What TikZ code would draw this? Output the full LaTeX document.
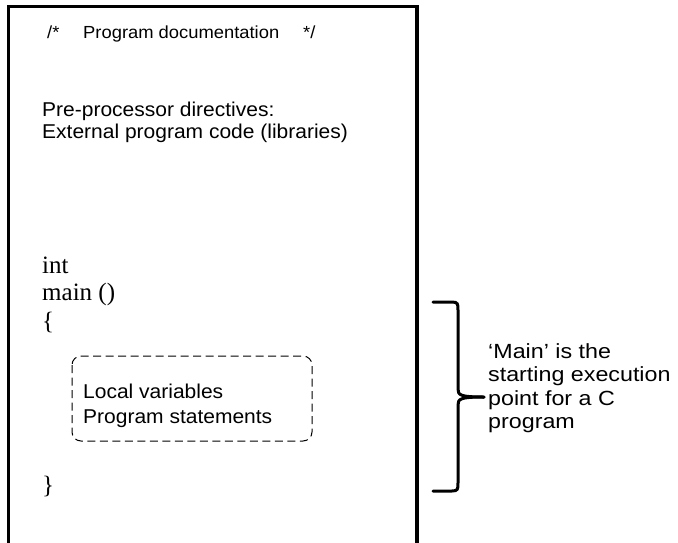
\documentclass[tikz,border=0pt]{standalone}
\usepackage{fontspec}
\setmainfont{Liberation Serif}
\setsansfont{Liberation Sans}
\newfontfamily\bodysans[FakeStretch=1.05]{Liberation Sans}
\newfontfamily\widesans[FakeStretch=1.135]{Liberation Sans}
\begin{document}
\begin{tikzpicture}[x=1pt,y=-1pt,
  sanstxt/.style={font=\bodysans\fontsize{20}{24}\selectfont, inner sep=0pt, anchor=base west},
  notetxt/.style={font=\widesans\fontsize{20.5}{24}\selectfont, inner sep=0pt, anchor=base west},
  smalltxt/.style={font=\bodysans\fontsize{17.5}{20}\selectfont, inner sep=0pt, anchor=base west},
  serftxt/.style={font=\rmfamily\fontsize{25}{28}\selectfont, inner sep=0pt, anchor=base west},
  dashbox/.style={draw, dash pattern=on 8pt off 4.5pt, rounded corners=9pt, line width=1pt},
  bracestyle/.style={line width=3pt, line cap=round}]
\useasboundingbox (0,0) rectangle (678,542);
% outer open-bottom frame
\draw[line width=3.5pt] (8.5,560) coordinate (bl) -- (8.5,6.5) coordinate (tl) -- (417,6.5) coordinate (tr) -- (417,560) coordinate (br);
\node[smalltxt] (docl) at (47,38) {/*};
\node[smalltxt] (doc) at (83,38) {Program documentation};
\node[smalltxt] (docr) at (303,38) {*/};
\node[sanstxt] (pre1) at (42,116) {Pre-processor directives:};
\node[sanstxt] (pre2) at (42,138) {External program code (libraries)};
\node[serftxt] (int) at (42,273) {int};
\node[serftxt] (mainf) at (42,300.5) {main ()};
\node[serftxt] (lb) at (42,329) {\{};
\node[serftxt] (rb) at (42,493) {\}};
\draw[dashbox] (72,356) rectangle (312,441);
\node[sanstxt] (lv) at (83,398) {Local variables};
\node[sanstxt] (ps) at (83,423) {Program statements};
% brace
\coordinate (btop) at (433,302);
\coordinate (bbot) at (433,491);
\coordinate (btip) at (484,397);
\draw[bracestyle] (btop) -- (452,302) .. controls (458,302) and (458,304) .. (458,310) -- (458,389) .. controls (458,395) and (460,397) .. (btip);
\draw[bracestyle] (bbot) -- (452,491) .. controls (458,491) and (458,489) .. (458,483) -- (458,405) .. controls (458,399) and (460,397) .. (btip);
\node[notetxt] (m1) at (488,358) {‘Main’ is the};
\node[notetxt] (m2) at (488,381.5) {starting execution};
\node[notetxt] (m3) at (488,405) {point for a C};
\node[notetxt] (m4) at (488,428.5) {program};
\end{tikzpicture}
\end{document}
